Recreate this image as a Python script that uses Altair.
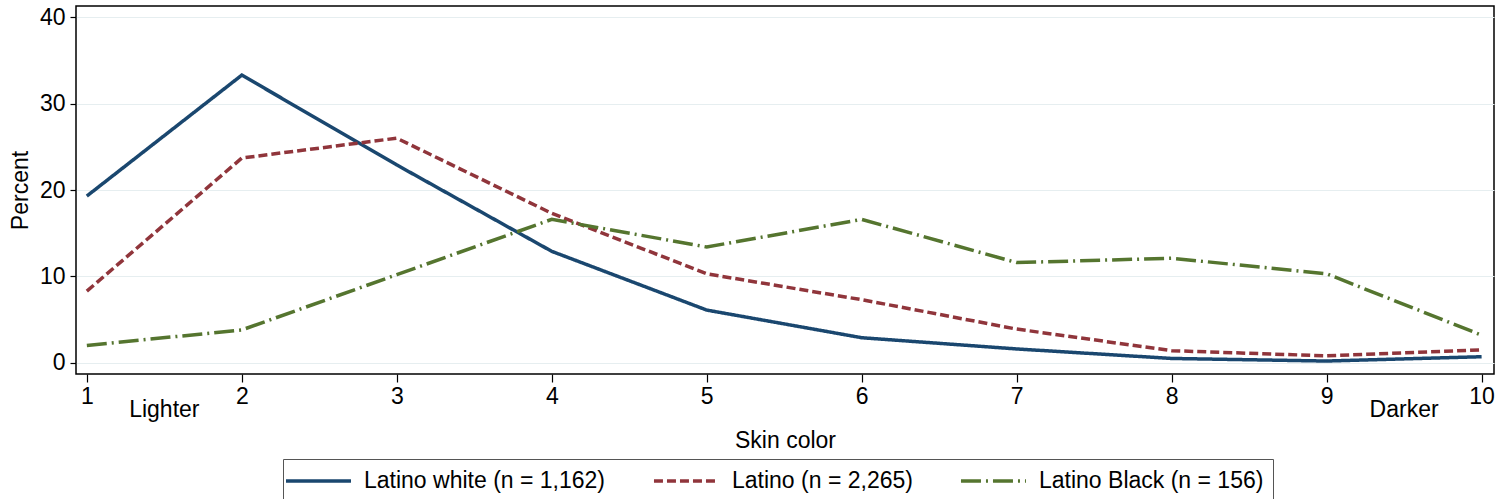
import altair as alt
import pandas as pd

# Skin-color scale (1 = lighter, 10 = darker)
skin = [1, 2, 3, 4, 5, 6, 7, 8, 9, 10]

# Percent of each group at each skin-color value
latino_white = [19.3, 33.3, 22.9, 12.9, 6.1, 2.9, 1.6, 0.5, 0.2, 0.7]
latino = [8.3, 23.7, 26.0, 17.3, 10.3, 7.3, 3.9, 1.4, 0.8, 1.5]
latino_black = [2.0, 3.8, 10.2, 16.6, 13.4, 16.6, 11.6, 12.1, 10.3, 3.2]

groups = [
    "Latino white (n = 1,162)",
    "Latino (n = 2,265)",
    "Latino Black (n = 156)",
]
colors = ["#1a476f", "#90353b", "#55752f"]
dashes = [[1, 0], [9, 4], [20, 5, 2, 5]]

y_ticks = [0, 10, 20, 30, 40]

# Endpoint labels under the x axis
end_labels = ["Lighter", "Darker"]
end_pos = [1.5, 9.5]

rows = []
for g, vals in zip(groups, [latino_white, latino, latino_black]):
    for s, v in zip(skin, vals):
        rows.append({"skin": s, "pct": v, "group": g})
df = pd.DataFrame(rows)

FONT = "Liberation Sans"
FS = 23

x_scale = alt.Scale(domain=[0.93, 10.08], nice=False, zero=False)
y_scale = alt.Scale(domain=[-1.3, 41.3], nice=False, zero=False)

# One shared legend for colour and dash pattern; the symbol is a long
# horizontal stroke while the row height stays at the label size.
legend = alt.Legend(
    title=None,
    orient="none",
    legendX=207,
    legendY=453,
    direction="horizontal",
    symbolType="M-1.73,0H4.18",
    symbolSize=484,
    symbolStrokeWidth=3.5,
    symbolFillColor="transparent",
    labelFontSize=FS,
    labelColor="#000",
    labelLimit=400,
    labelOffset=46,
    columnPadding=40,
    padding=9,
    strokeColor="#555",
    fillColor="#fff",
)

lines = alt.Chart(df).mark_line(strokeWidth=3.5, strokeCap="butt", strokeJoin="miter").encode(
    x=alt.X(
        "skin:Q",
        scale=x_scale,
        axis=alt.Axis(
            values=skin,
            format="d",
            title="Skin color",
            grid=False,
            domain=False,
            tickColor="#000",
            tickSize=8,
            tickWidth=1.2,
            labelFontSize=FS,
            labelPadding=3,
            labelColor="#000",
            titleFontSize=FS,
            titleFontWeight="normal",
            titleColor="#000",
            titlePadding=21,
        ),
    ),
    y=alt.Y(
        "pct:Q",
        scale=y_scale,
        axis=alt.Axis(
            values=y_ticks,
            title="Percent",
            grid=True,
            gridColor="#e6eef0",
            gridWidth=1.2,
            domain=False,
            tickColor="#000",
            tickSize=6,
            tickWidth=1.2,
            labelFontSize=FS,
            labelPadding=5,
            labelColor="#000",
            titleFontSize=FS,
            titleFontWeight="normal",
            titleColor="#000",
            titlePadding=7,
        ),
    ),
    color=alt.Color(
        "group:N",
        scale=alt.Scale(domain=groups, range=colors),
        sort=groups,
        legend=legend,
    ),
    strokeDash=alt.StrokeDash(
        "group:N",
        scale=alt.Scale(domain=groups, range=dashes),
        sort=groups,
        legend=legend,
    ),
)

ends = alt.Chart(pd.DataFrame({"x": end_pos, "label": end_labels})).mark_text(
    fontSize=FS, font=FONT, color="#000", baseline="middle"
).encode(
    x=alt.X("x:Q", scale=x_scale),
    y=alt.value(404),
    text="label:N",
)

chart = (
    alt.layer(lines, ends)
    .properties(
        width=1418,
        height=368,
        autosize=alt.AutoSizeParams(type="none"),
        padding={"left": 76, "top": 6, "right": 6, "bottom": 125},
    )
    .configure(font=FONT, background="#ffffff")
    .configure_view(stroke="#000", strokeWidth=1.5)
)

chart.save("out.html", embed_options={"renderer": "svg", "actions": False})
